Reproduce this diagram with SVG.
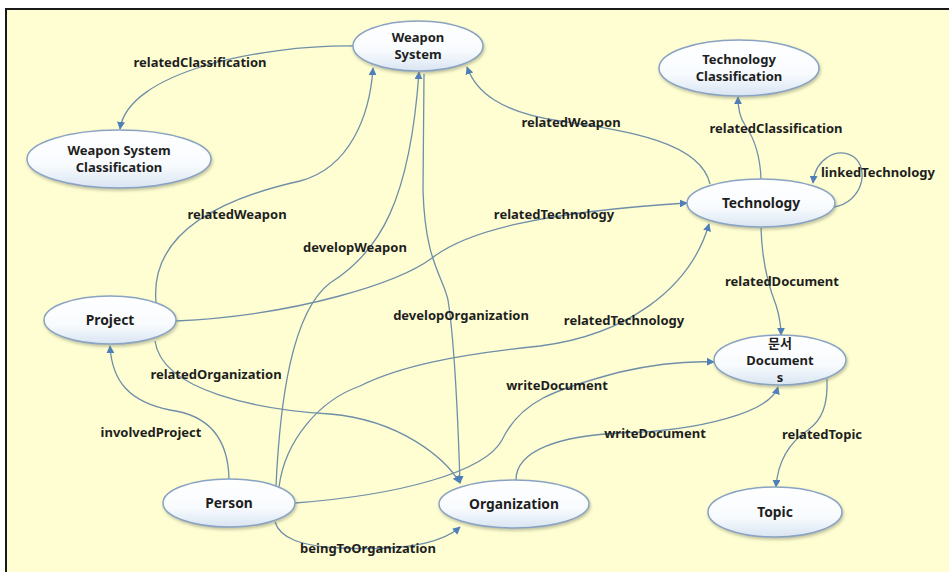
<svg xmlns="http://www.w3.org/2000/svg" width="949" height="572" viewBox="0 0 949 572">
  <style>
    .edge { fill: none; stroke: #6f8ea8; stroke-width: 1.3; }
    .arr { marker-end: url(#head); }
    .node ellipse { fill: url(#nodeFill); stroke: #8aa3c2; stroke-width: 1.5; filter: url(#shadow); }
    .node text { font-family: "Noto Sans", "Noto Sans CJK KR", sans-serif; font-weight: bold; font-size: 13.8px; fill: #1e1e1e; text-anchor: middle; }
    .node.multi text { font-size: 13px; }
    .lbl { font-family: "Noto Sans", "Noto Sans CJK KR", sans-serif; font-weight: bold; font-size: 13px; fill: #1e1e1e; text-anchor: middle; }
  </style>
  <defs>
    <linearGradient id="nodeFill" x1="0" y1="0" x2="0" y2="1">
      <stop offset="0" stop-color="#ffffff"/>
      <stop offset="0.6" stop-color="#f8fbfe"/>
      <stop offset="1" stop-color="#d9e5f2"/>
    </linearGradient>
    <filter id="shadow" x="-20%" y="-20%" width="140%" height="150%">
      <feDropShadow dx="1" dy="2" stdDeviation="1.5" flood-color="#7a7a60" flood-opacity="0.45"/>
    </filter>
    <marker id="head" viewBox="0 0 10 10" refX="9" refY="5" markerWidth="8" markerHeight="8" markerUnits="userSpaceOnUse" orient="auto">
      <path d="M0,0 L10,5 L0,10 Z" fill="#4f7fb8"/>
    </marker>
  </defs>

  <!-- canvas -->
  <rect x="0" y="0" width="949" height="572" fill="#ffffff"/>
  <rect x="6" y="9" width="950" height="570" fill="#fefed2" stroke="#1a1a1a" stroke-width="2"/>

  <!-- connectors -->
  <g id="connectors">
    <path class="edge arr" d="M353,46 C260,45 128,72 120,129"/>
    <path class="edge arr" d="M156,302 C150,235 215,200 300,181 C350,168 370,115 373,68"/>
    <path class="edge arr" d="M276,486 C280,400 292,312 330,283 C380,252 410,200 419,72"/>
    <path class="edge arr" d="M424,74 L423,190 C425,262 443,276 448,300 C455,345 458,420 460,483"/>
    <path class="edge arr" d="M710,184 C700,140 620,130 560,121 C500,112 476,92 467,67"/>
    <path class="edge arr" d="M176,321 C300,315 400,282 432,258 C468,230 545,212 687,203"/>
    <path class="edge arr" d="M279,487 C285,440 320,400 360,386 C400,366 455,355 540,346 C625,335 690,290 709,224"/>
    <path class="edge arr" d="M155,341 C162,392 262,410 330,414 C400,420 445,458 460,483"/>
    <path class="edge arr" d="M229,479 C228,430 200,414 170,410 C130,402 112,382 110,346"/>
    <path class="edge arr" d="M295,503 C400,495 485,472 502,440 C520,402 552,390 620,372 C660,363 690,361 714,362"/>
    <path class="edge arr" d="M516,480 C516,450 560,436 620,433 C700,431 770,412 778,387"/>
    <path class="edge arr" d="M761,179 C760,150 752,135 745,125 C740,118 738,108 738,97"/>
    <path class="edge arr" d="M834,207 C862,202 870,170 854,157 C836,146 815,160 813,183"/>
    <path class="edge arr" d="M761,228 C762,262 770,290 776,305 C780,318 781,325 781,335"/>
    <path class="edge arr" d="M827,379 C828,405 822,420 808,430 C790,442 778,460 776,487"/>
    <path class="edge arr" d="M275,522 C280,538 300,546 340,548 C400,551 440,545 460,527"/>
  </g>

  <!-- connector labels -->
  <g id="labels">
    <text class="lbl" x="200" y="67">relatedClassification</text>
    <text class="lbl" x="237" y="219">relatedWeapon</text>
    <text class="lbl" x="355" y="252">developWeapon</text>
    <text class="lbl" x="461" y="320">developOrganization</text>
    <text class="lbl" x="571" y="127">relatedWeapon</text>
    <text class="lbl" x="554" y="219">relatedTechnology</text>
    <text class="lbl" x="624" y="325">relatedTechnology</text>
    <text class="lbl" x="216" y="379">relatedOrganization</text>
    <text class="lbl" x="151" y="437">involvedProject</text>
    <text class="lbl" x="557" y="390">writeDocument</text>
    <text class="lbl" x="655" y="438">writeDocument</text>
    <text class="lbl" x="776" y="133">relatedClassification</text>
    <text class="lbl" x="878" y="177">linkedTechnology</text>
    <text class="lbl" x="782" y="286">relatedDocument</text>
    <text class="lbl" x="822" y="439">relatedTopic</text>
    <text class="lbl" x="368" y="553">beingToOrganization</text>
  </g>

  <!-- nodes -->
  <g id="weapon-system" class="node multi">
    <ellipse cx="418" cy="46" rx="65" ry="25"/>
    <text x="418" y="42">Weapon</text>
    <text x="418" y="59">System</text>
  </g>
  <g id="weapon-system-classification" class="node multi">
    <ellipse cx="119" cy="159" rx="92" ry="29"/>
    <text x="119" y="155">Weapon System</text>
    <text x="119" y="172">Classification</text>
  </g>
  <g id="technology-classification" class="node multi">
    <ellipse cx="739" cy="68" rx="80" ry="28"/>
    <text x="739" y="64">Technology</text>
    <text x="739" y="81">Classification</text>
  </g>
  <g id="technology" class="node">
    <ellipse cx="761" cy="203" rx="74" ry="24"/>
    <text x="761" y="208">Technology</text>
  </g>
  <g id="project" class="node">
    <ellipse cx="110" cy="320" rx="66" ry="24"/>
    <text x="110" y="325">Project</text>
  </g>
  <g id="documents" class="node multi">
    <ellipse cx="780" cy="360" rx="66" ry="25"/>
    <text x="780" y="348">문서</text>
    <text x="780" y="365">Document</text>
    <text x="780" y="382">s</text>
  </g>
  <g id="person" class="node">
    <ellipse cx="229" cy="503" rx="66" ry="24"/>
    <text x="229" y="508">Person</text>
  </g>
  <g id="organization" class="node">
    <ellipse cx="514" cy="504" rx="75" ry="24"/>
    <text x="514" y="509">Organization</text>
  </g>
  <g id="topic" class="node">
    <ellipse cx="775" cy="512" rx="67" ry="25"/>
    <text x="775" y="517">Topic</text>
  </g>
</svg>
